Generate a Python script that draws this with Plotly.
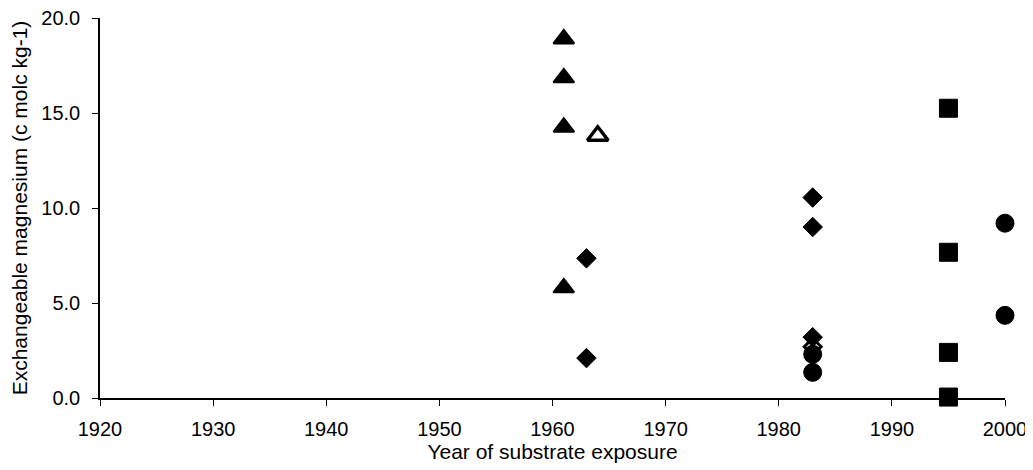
import plotly.graph_objects as go

# Data
tri_year = [1961, 1961, 1961, 1961]
tri_mg = [18.9, 16.85, 14.25, 5.8]

open_tri_year = [1964]
open_tri_mg = [13.8]

dia_year = [1963, 1963, 1983, 1983, 1983]
dia_mg = [7.35, 2.1, 10.55, 9.0, 3.2]

open_dia_year = [1983]
open_dia_mg = [2.7]

sq_year = [1995, 1995, 1995, 1995]
sq_mg = [15.25, 7.67, 2.4, 0.05]

circ_year = [1983, 1983, 2000, 2000]
circ_mg = [2.3, 1.35, 9.2, 4.35]

x_ticks = [1920, 1930, 1940, 1950, 1960, 1970, 1980, 1990, 2000]
y_ticks = [0, 5, 10, 15, 20]

fig = go.Figure()
fig.add_trace(go.Scatter(x=sq_year, y=sq_mg, mode="markers",
                         marker=dict(symbol="square", size=18, color="black",
                                     line=dict(width=1, color="black")),
                         showlegend=False, cliponaxis=False))
fig.add_trace(go.Scatter(x=circ_year, y=circ_mg, mode="markers",
                         marker=dict(symbol="circle", size=18, color="black",
                                     line=dict(width=1, color="black")),
                         showlegend=False, cliponaxis=False))
fig.add_trace(go.Scatter(x=dia_year, y=dia_mg, mode="markers",
                         marker=dict(symbol="diamond", size=15, color="black",
                                     line=dict(width=1, color="black")),
                         showlegend=False, cliponaxis=False))
fig.add_trace(go.Scatter(x=open_dia_year, y=open_dia_mg, mode="markers",
                         marker=dict(symbol="diamond-open", size=13, color="black",
                                     line=dict(width=3)),
                         showlegend=False, cliponaxis=False))
fig.add_trace(go.Scatter(x=tri_year, y=tri_mg, mode="markers",
                         marker=dict(symbol="triangle-up", size=18, color="black",
                                     line=dict(width=2, color="black")),
                         showlegend=False, cliponaxis=False))
fig.add_trace(go.Scatter(x=open_tri_year, y=open_tri_mg, mode="markers",
                         marker=dict(symbol="triangle-up-open", size=18, color="black",
                                     line=dict(width=3.5)),
                         showlegend=False, cliponaxis=False))

fig.update_layout(
    width=1025, height=462,
    margin=dict(l=92, r=28, t=10, b=72),
    plot_bgcolor="white", paper_bgcolor="white",
    font=dict(family="Liberation Sans, Arial, sans-serif", size=20, color="black"),
    xaxis=dict(range=[1920, 2000], tickvals=x_ticks, ticktext=[str(v) for v in x_ticks],
               showgrid=False, zeroline=False, showline=True, linecolor="black",
               linewidth=1.5, ticks="outside", ticklen=6, tickcolor="black",
               tickfont=dict(size=20), ticklabelstandoff=6, ticklabeloverflow="allow",
               automargin=False,
               title=dict(text="Year of substrate exposure", standoff=6,
                          font=dict(size=21))),
    yaxis=dict(range=[0, 20], tickvals=y_ticks, ticktext=[f"{v:.1f}" for v in y_ticks],
               showgrid=False, zeroline=False, showline=True, linecolor="black",
               linewidth=1.5, ticks="outside", ticklen=6, tickcolor="black",
               tickfont=dict(size=20), ticklabelstandoff=8, ticklabeloverflow="allow",
               automargin=False,
               title=dict(text="Exchangeable magnesium (c molc kg-1)", standoff=10,
                          font=dict(size=21))),
)

fig.write_html("out.html")
